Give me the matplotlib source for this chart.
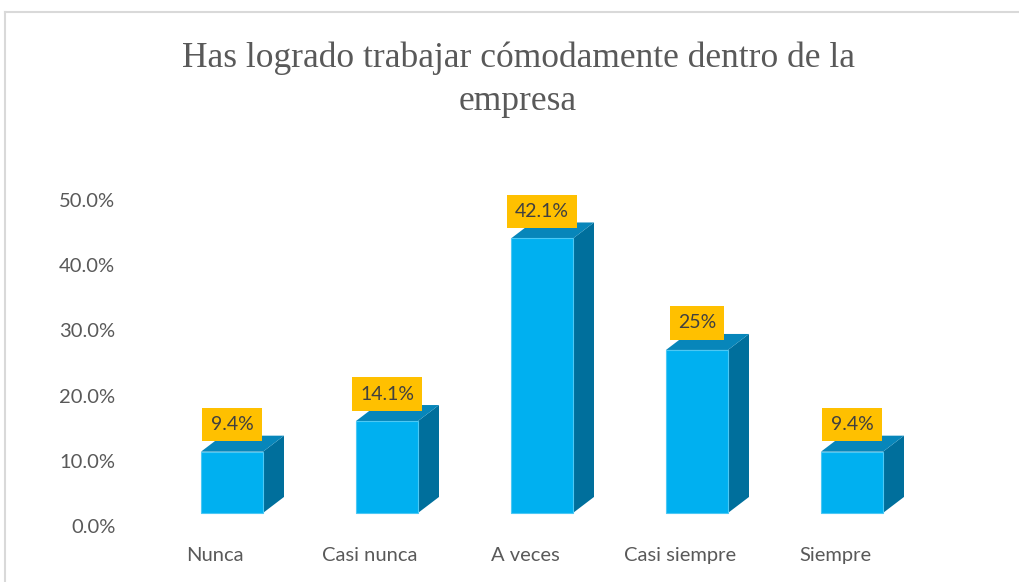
import matplotlib.pyplot as plt
from matplotlib.patches import Rectangle, Polygon
from matplotlib.lines import Line2D

# chart data
categories = ["Nunca", "Casi nunca", "A veces", "Casi siempre", "Siempre"]
values = [9.4, 14.1, 42.1, 25.0, 9.4]
value_labels = ["9.4%", "14.1%", "42.1%", "25%", "9.4%"]
y_ticks = [0, 10, 20, 30, 40, 50]
y_tick_labels = ["0.0%", "10.0%", "20.0%", "30.0%", "40.0%", "50.0%"]
title = "Has logrado trabajar cómodamente dentro de la\nempresa"

# colours
FRONT = "#00B0F0"
TOP = "#0786BA"
SIDE = "#006F9C"
GOLD = "#FFC000"
GRAY = "#595959"

W, H = 1019, 582
fig = plt.figure(figsize=(W / 100, H / 100), dpi=100)
fig.patch.set_facecolor("white")

# axes placed so one category = 155 px and 10% = 65.2 px
left_px, right_px = 125, 960
bottom_px, top_px = 526, 150
ax = fig.add_axes([left_px / W, 1 - bottom_px / H,
                   (right_px - left_px) / W, (bottom_px - top_px) / H])
ax.set_xlim((left_px - 232) / 155, (right_px - 232) / 155)
ax.set_ylim(0, (bottom_px - top_px) / 6.52)

bar_w = 62 / 155      # front face width
dx = 21 / 155         # depth offset (x)
dy = 16 / 6.52        # depth offset (y)
base = 2.0            # front face floor

for i, v in enumerate(values):
    x0 = i - bar_w / 2
    x1 = i + bar_w / 2
    ax.add_patch(Polygon([(x1, base), (x1 + dx, base + dy),
                          (x1 + dx, base + v + dy), (x1, base + v)],
                         closed=True, facecolor=SIDE, edgecolor="none"))
    ax.add_patch(Polygon([(x0, base + v), (x1, base + v),
                          (x1 + dx, base + v + dy), (x0 + dx, base + v + dy)],
                         closed=True, facecolor=TOP, edgecolor="none"))
    ax.add_patch(Rectangle((x0, base), bar_w, v, facecolor=FRONT,
                           edgecolor="#4CC8F4", linewidth=0.8))
    ax.text(i, base + v + 27 / 6.52, value_labels[i], ha="center", va="center",
            fontsize=14, family="Lato", color="#404040", zorder=5,
            bbox=dict(boxstyle="square,pad=0.42", facecolor=GOLD, edgecolor="none"))

ax.set_yticks(y_ticks)
ax.set_yticklabels(y_tick_labels, family="Lato", fontsize=14.5, color=GRAY)
ax.set_xticks([i - 17 / 155 for i in range(len(categories))])
ax.set_xticklabels(categories, family="Lato", fontsize=14.5, color=GRAY)
ax.tick_params(axis="y", length=0, pad=7)
ax.tick_params(axis="x", length=0, pad=15)
for s in ax.spines.values():
    s.set_visible(False)
ax.patch.set_alpha(0)

fig.text(518 / W, 1 - 110 / H, title, ha="center", va="baseline",
         family="Liberation Serif", fontsize=25.5, color=GRAY, linespacing=1.4)

# chart area border (top and left visible)
fig.add_artist(Line2D([5 / W, 1], [1 - 12 / H, 1 - 12 / H],
                      transform=fig.transFigure, color="#D9D9D9", linewidth=1.5))
fig.add_artist(Line2D([5 / W, 5 / W], [0, 1 - 12 / H],
                      transform=fig.transFigure, color="#D9D9D9", linewidth=1.5))

fig.savefig("out.png", dpi=100)
